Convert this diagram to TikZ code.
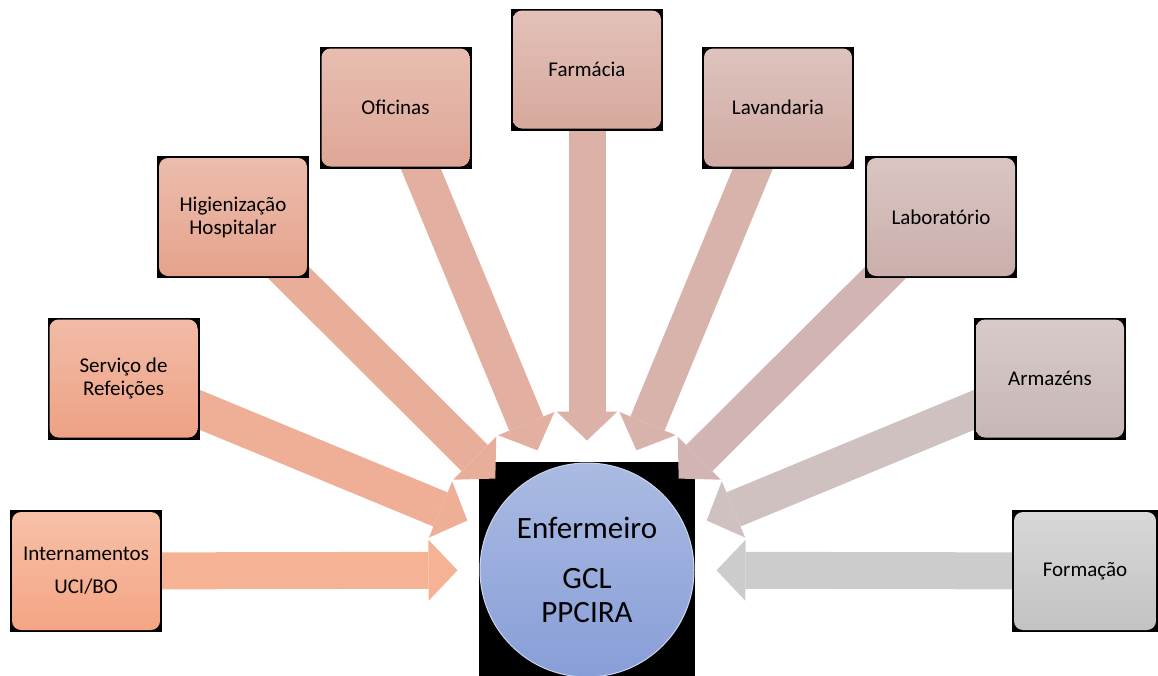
\documentclass[tikz,border=0pt]{standalone}
\usepackage{fontspec}
\setmainfont{Carlito}
\usepackage{tikz}
\usetikzlibrary{arrows,arrows.meta}
\usetikzlibrary{backgrounds}

\definecolor{internT}{HTML}{F7C1A9}\definecolor{internB}{HTML}{F4A482}\definecolor{internA}{HTML}{F5B294}
\definecolor{refeiT}{HTML}{F2BCA8}\definecolor{refeiB}{HTML}{EDA183}\definecolor{refeiA}{HTML}{EFAE96}
\definecolor{higiT}{HTML}{ECBDAD}\definecolor{higiB}{HTML}{E5A28C}\definecolor{higiA}{HTML}{E8AE9A}
\definecolor{oficT}{HTML}{E8BEB1}\definecolor{oficB}{HTML}{DEA696}\definecolor{oficA}{HTML}{E2AFA0}
\definecolor{farmT}{HTML}{E3C1B9}\definecolor{farmB}{HTML}{D7A89C}\definecolor{farmA}{HTML}{DCB1A8}
\definecolor{lavT}{HTML}{DEC3BE}\definecolor{lavB}{HTML}{D0AAA3}\definecolor{lavA}{HTML}{D7B3AC}
\definecolor{labT}{HTML}{DAC6C3}\definecolor{labB}{HTML}{CAAEAA}\definecolor{labA}{HTML}{D2B5B2}
\definecolor{armT}{HTML}{D8CBCA}\definecolor{armB}{HTML}{C6B6B5}\definecolor{armA}{HTML}{CFC1C0}
\definecolor{formT}{HTML}{D8D8D8}\definecolor{formB}{HTML}{C2C2C2}\definecolor{formA}{HTML}{CCCCCC}
\definecolor{hubT}{HTML}{AABAE2}\definecolor{hubB}{HTML}{889ED8}

\tikzset{
	svcbox/.style 2 args={rectangle, fill=black, minimum width=152pt, minimum height=122pt, inner sep=0pt,
		align=center, font=\fontsize{21}{23}\selectfont,
		path picture={\shade[top color=#1, bottom color=#2, rounded corners=9pt]
			([shift={(2pt,-2pt)}]path picture bounding box.north west) rectangle
			([shift={(-2pt,2pt)}]path picture bounding box.south east);}},
	flow/.style={line width=37pt, draw=#1, -{Triangle[length=29pt,width=61pt,line width=0pt]},
		shorten >=22pt, shorten <=-25pt},
	hub/.style={circle, minimum size=214pt, inner sep=0pt, top color=hubT, bottom color=hubB,
		draw=hubT!60!white, line width=1pt, align=center, font=\fontsize{31}{34}\selectfont}
}

\begin{document}
\begin{tikzpicture}[x=1pt, y=-1pt]
	\path[use as bounding box, clip] (0,0) rectangle (1158,675);
	\node[svcbox={internT}{internB}] (intern) at (86,571) {Internamentos\\[10pt]UCI/BO};
	\node[svcbox={refeiT}{refeiB}] (refei) at (123.5,378.5) {Serviço de\\Refeições};
	\node[svcbox={higiT}{higiB}] (higi) at (233,217) {Higienização\\Hospitalar};
	\node[svcbox={oficT}{oficB}] (ofic) at (395.5,107.5) {Oficinas};
	\node[svcbox={farmT}{farmB}] (farm) at (587,69.5) {Farmácia};
	\node[svcbox={lavT}{lavB}] (lav) at (778,107.5) {Lavandaria};
	\node[svcbox={labT}{labB}] (lab) at (941,217) {Laboratório};
	\node[svcbox={armT}{armB}] (arm) at (1050,378.5) {Armazéns};
	\node[svcbox={formT}{formB}, minimum width=146pt] (form) at (1085,571) {Formação};
	\node[hub] (ctr) at (587,570) {Enfermeiro\\[16pt]GCL\\PPCIRA};
	\begin{scope}[on background layer]
%		\fill[white] (ctr) circle [radius=130pt];
		\fill[black] ([shift={(-108pt,108pt)}]ctr.center) rectangle ([shift={(108pt,-108pt)}]ctr.center);
		\draw[flow=internA] (intern) -- (ctr);
		\draw[flow=refeiA] (refei) -- (ctr);
		\draw[flow=higiA] (higi) -- (ctr);
		\draw[flow=oficA] (ofic) -- (ctr);
		\draw[flow=farmA] (farm) -- (ctr);
		\draw[flow=lavA] (lav) -- (ctr);
		\draw[flow=labA] (lab) -- (ctr);
		\draw[flow=armA] (arm) -- (ctr);
		\draw[flow=formA] (form) -- (ctr);
	\end{scope}
\end{tikzpicture}
\end{document}
